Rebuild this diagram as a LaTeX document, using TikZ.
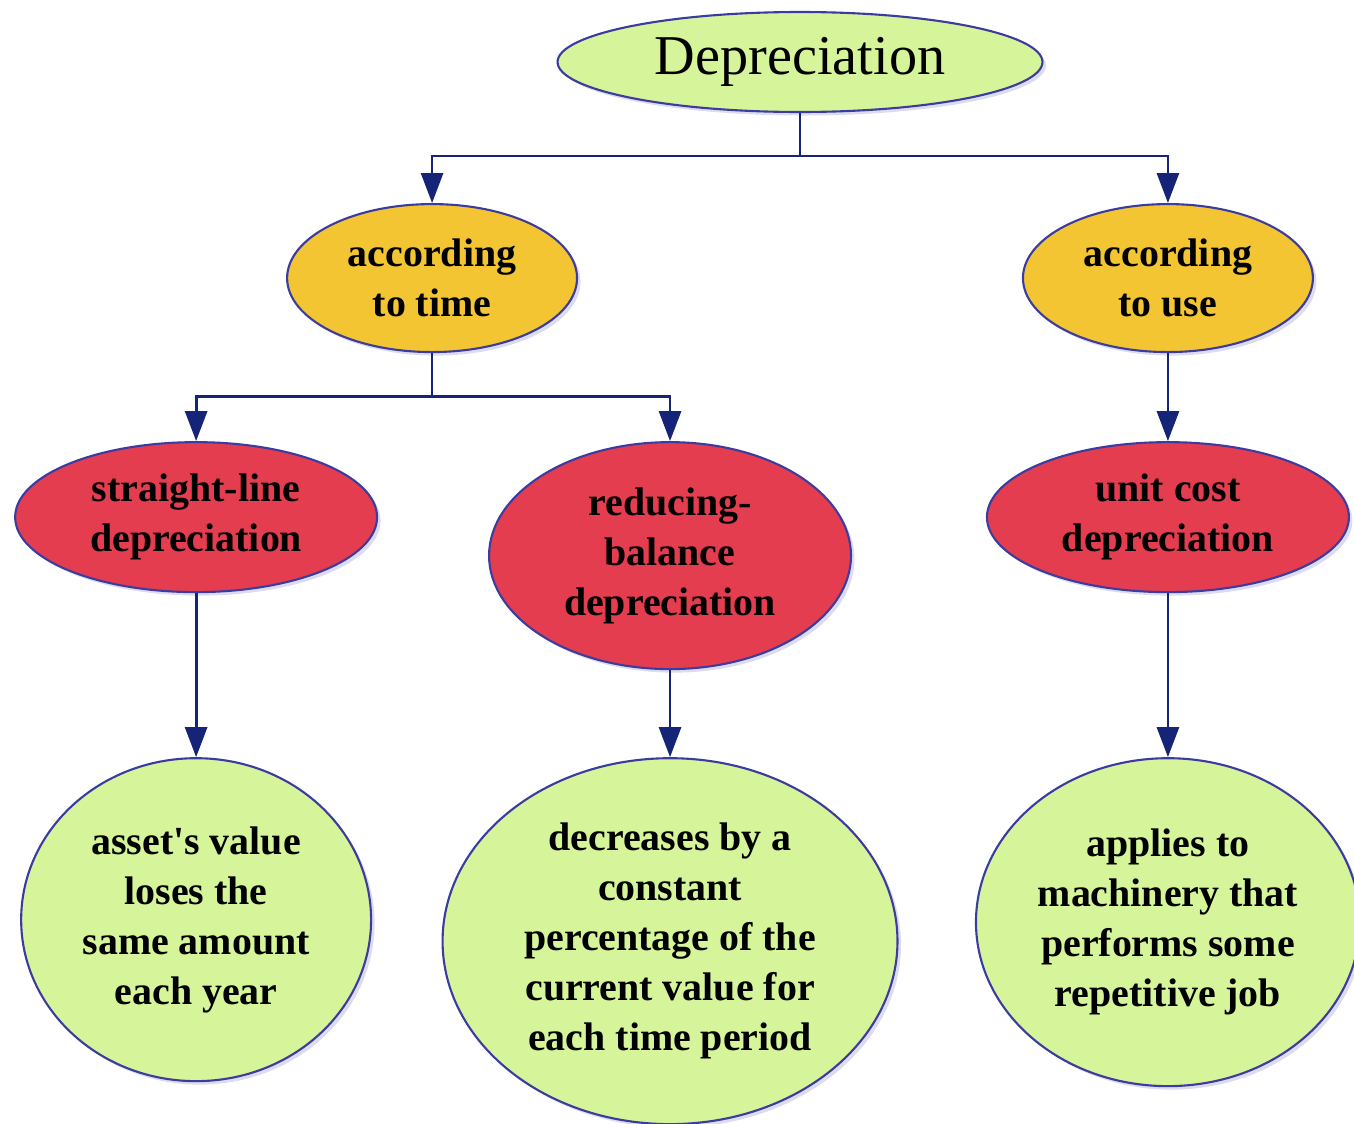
\documentclass[tikz,border=0pt]{standalone}
\usepackage{fontspec}
\setmainfont{Liberation Serif}
\usetikzlibrary{positioning,shapes.geometric,shadows,arrows.meta}

\definecolor{leafgreen}{RGB}{214,245,155}
\definecolor{kindyellow}{RGB}{243,197,50}
\definecolor{methodred}{RGB}{229,61,80}
\definecolor{rimblue}{RGB}{60,60,160}
\definecolor{linknavy}{RGB}{22,36,120}

\tikzset{
  bubble/.style={ellipse, draw=rimblue, line width=1.2pt, inner sep=0pt,
    align=center, text=black, font=\bfseries\fontsize{22.7}{28.5}\selectfont,
    drop shadow={shadow xshift=2pt, shadow yshift=-2pt, fill=rimblue!60, opacity=0.3}},
  rootnode/.style={bubble, fill=leafgreen, minimum width=9.7cm, minimum height=2cm,
    font=\fontsize{32}{38}\selectfont},
  kind/.style={bubble, fill=kindyellow, minimum width=5.8cm, minimum height=2.96cm},
  method/.style={bubble, fill=methodred, minimum width=7.24cm, minimum height=3cm},
  leaf/.style={bubble, fill=leafgreen},
  link/.style={draw=linknavy, line width=1.6pt, -{Triangle[length=0.6cm,width=0.44cm]}}
}

\begin{document}
\begin{tikzpicture}[x=0.02cm, y=-0.02cm]

    \useasboundingbox (0,0) rectangle (1354,1123);

    % Define nodes
    \node[rootnode]                                   (root) at (800,62) {Depreciation};
    \node[kind, below=1.8cm of root, xshift=-7.36cm]  (time) {according\\to time};
    \node[kind, below=1.8cm of root, xshift=7.36cm]   (use) {according\\to use};
    \node[method, below=1.76cm of time, xshift=-4.72cm] (straight) {straight-line\\depreciation};
    \node[method, below=1.76cm of time, xshift=4.76cm, minimum height=4.54cm] (reducing) {reducing-\\balance\\depreciation};
    \node[method, below=1.76cm of use]                (unit) {unit cost\\depreciation};
    \node[leaf, below=3.28cm of straight, minimum width=7cm, minimum height=6.46cm] (straight-d)
      {asset\textquotesingle s value\\loses the\\same amount\\each year};
    \node[leaf, below=1.74cm of reducing, minimum width=9.1cm, minimum height=7.32cm] (reducing-d)
      {decreases by a\\constant\\percentage of the\\current value for\\each time period};
    \node[leaf, below=3.28cm of unit, minimum width=7.68cm, minimum height=6.56cm] (unit-d)
      {applies to\\machinery that\\performs some\\repetitive job};

    % Connect the nodes
    \draw[link] (root.south) -- ++(0,-0.86cm) coordinate (root-split) -| (time);
    \draw[link] (root-split) -| (use);
    \draw[link] (time.south) -- ++(0,-0.86cm) coordinate (time-split) -| (straight);
    \draw[link] (time-split) -| (reducing);
    \draw[link] (use) -- (unit);
    \draw[link] (straight) -- (straight-d);
    \draw[link] (reducing) -- (reducing-d);
    \draw[link] (unit) -- (unit-d);

\end{tikzpicture}
\end{document}
